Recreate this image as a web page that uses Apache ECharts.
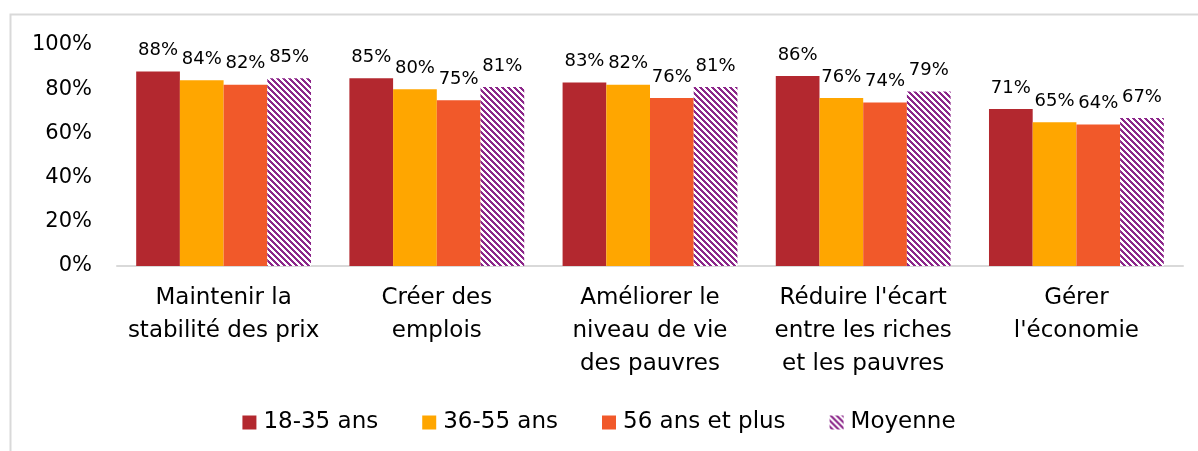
<!DOCTYPE html>
<html>
<head>
<meta charset="utf-8">
<script src="https://cdn.jsdelivr.net/npm/echarts@6/dist/echarts.min.js"></script>
<style>
html, body { margin: 0; padding: 0; background: #fff; }
#chart { width: 1198px; height: 451px; }
</style>
</head>
<body>
<div id="chart"></div>
<script>
// categories and values (percent)
const categories = [
  "Maintenir la\nstabilité des prix",
  "Créer des\nemplois",
  "Améliorer le\nniveau de vie\ndes pauvres",
  "Réduire l'écart\nentre les riches\net les pauvres",
  "Gérer\nl'économie"
];
const seriesNames = ["18-35 ans", "36-55 ans", "56 ans et plus", "Moyenne"];
const age18_35 = [88, 85, 83, 86, 71];
const age36_55 = [84, 80, 82, 76, 65];
const age56plus = [82, 75, 76, 74, 64];
const moyenne = [85, 81, 81, 79, 67];
const yTicks = [0, 20, 40, 60, 80, 100];

const FONT = "DejaVu Sans";

// hachures violettes pour la moyenne
function makeHatch() {
  const size = 6;
  const c = document.createElement("canvas");
  c.width = size; c.height = size;
  const ctx = c.getContext("2d");
  const img = ctx.createImageData(size, size);
  for (let y = 0; y < size; y++) {
    for (let x = 0; x < size; x++) {
      const i = (y * size + x) * 4;
      const on = ((x - y) % size + size) % size < 3;
      img.data[i] = on ? 0x8c : 255;
      img.data[i + 1] = on ? 0x27 : 255;
      img.data[i + 2] = on ? 0x8a : 255;
      img.data[i + 3] = 255;
    }
  }
  ctx.putImageData(img, 0, 0);
  return c;
}

const colors = ["#b3282f", "#ffa600", "#f1592a", { image: makeHatch(), repeat: "repeat" }];
const allData = [age18_35, age36_55, age56plus, moyenne];

const chart = echarts.init(document.getElementById("chart"));

const option = {
  animation: false,
  textStyle: { fontFamily: FONT },
  graphic: [{
    type: "rect",
    shape: { x: 10.5, y: 14.5, width: 1300, height: 500 },
    style: { fill: "none", stroke: "#d9d9d9", lineWidth: 2 },
    silent: true
  }],
  grid: { left: 117, right: 15, top: 45, bottom: 185 },
  legend: {
    data: seriesNames,
    bottom: 12,
    left: "center",
    icon: "rect",
    itemWidth: 14,
    itemHeight: 14,
    itemGap: 44,
    textStyle: { fontSize: 23, color: "#000", fontFamily: FONT, padding: [0, 0, 0, 2] }
  },
  xAxis: {
    type: "category",
    data: categories,
    axisLine: { lineStyle: { color: "#d9d9d9", width: 2 } },
    axisTick: { show: false },
    axisLabel: {
      interval: 0,
      fontSize: 23,
      lineHeight: 33,
      color: "#000",
      margin: 16
    }
  },
  yAxis: {
    type: "value",
    min: yTicks[0],
    max: yTicks[yTicks.length - 1],
    interval: 20,
    splitLine: { show: false },
    axisLine: { show: false },
    axisTick: { show: false },
    axisLabel: { formatter: "{value}%", fontSize: 21, color: "#000", margin: 25 }
  },
  series: seriesNames.map((name, k) => ({
    name: name,
    type: "bar",
    data: allData[k],
    barGap: "0%",
    barCategoryGap: "18%",
    itemStyle: { color: colors[k] },
    label: {
      show: true,
      position: "top",
      distance: 12,
      formatter: "{c}%",
      fontSize: 18,
      color: "#000"
    }
  }))
};

chart.setOption(option);
</script>
</body>
</html>
